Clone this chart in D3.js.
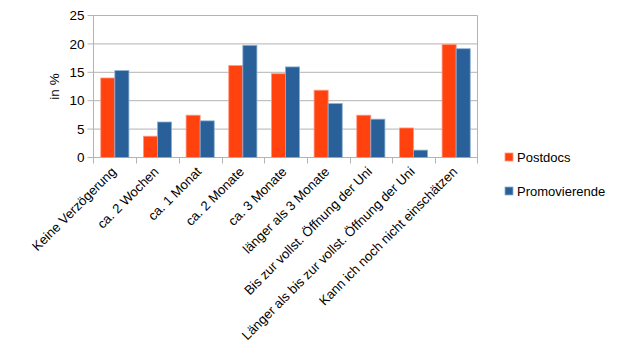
<!DOCTYPE html>
<html><head><meta charset="utf-8">
<script src="https://cdn.jsdelivr.net/npm/d3@7"></script>
<style>body{margin:0;background:#fff}svg{font-family:"Liberation Sans",Arial,sans-serif}</style>
</head><body><svg id="c" width="620" height="358"></svg>
<script>
const categories = ["Keine Verzögerung","ca. 2 Wochen","ca. 1 Monat","ca. 2 Monate","ca. 3 Monate","länger als 3 Monate","Bis zur vollst. Öffnung der Uni","Länger als bis zur vollst. Öffnung der Uni","Kann ich noch nicht einschätzen"];
const seriesNames = ["Postdocs","Promovierende"];
const postdocs = [14.0,3.75,7.45,16.2,14.75,11.85,7.45,5.2,19.9];
const promovierende = [15.3,6.25,6.45,19.75,15.95,9.5,6.75,1.3,19.15];
const yTicks = [0,5,10,15,20,25];
const colors = ["#ff420e","#2a6099"];
const strokes = ["#ff9a80","#8fb0d2"];

const svg = d3.select("#c");
const L=93.5, R=477.5, T=15.5, B=157.5;
const x = d3.scaleBand().domain(categories).range([L,R]).paddingInner(0.34).paddingOuter(0.17);
const xs = d3.scaleBand().domain(seriesNames).range([0,x.bandwidth()]);
const y = d3.scaleLinear().domain([0,25]).range([B,T]);

svg.append("g").selectAll("line").data(yTicks).join("line")
  .attr("x1",L-6).attr("x2",R).attr("y1",d=>y(d)).attr("y2",d=>y(d))
  .attr("stroke","#b3b3b3").attr("stroke-width",1);
svg.append("line").attr("x1",L).attr("x2",L).attr("y1",T).attr("y2",B+6).attr("stroke","#b3b3b3");
svg.append("line").attr("x1",R).attr("x2",R).attr("y1",T).attr("y2",B+6).attr("stroke","#b3b3b3");
const step = (R-L)/categories.length;
const bounds = d3.range(1,categories.length).map(i=>L+i*step);
svg.append("g").selectAll("line").data(bounds).join("line")
  .attr("x1",d=>Math.round(d)+0.5).attr("x2",d=>Math.round(d)+0.5).attr("y1",B).attr("y2",B+6)
  .attr("stroke","#b3b3b3");

svg.append("g").selectAll("text").data(yTicks).join("text")
  .attr("x",L-9).attr("y",d=>y(d)).attr("dy","0.35em").attr("text-anchor","end")
  .attr("font-size",13.5).attr("fill","#000").text(d=>d);
svg.append("text").attr("transform",`translate(59,${(T+B)/2}) rotate(-90)`)
  .attr("text-anchor","middle").attr("font-size",13.5).text("in %");

const data = [postdocs,promovierende];
data.forEach((vals,si)=>{
  svg.append("g").selectAll("rect").data(vals).join("rect")
    .attr("x",(d,i)=>x(categories[i])+xs(seriesNames[si]))
    .attr("width",xs.bandwidth())
    .attr("y",d=>y(d)).attr("height",d=>B-y(d))
    .attr("fill",colors[si]).attr("stroke",strokes[si]).attr("stroke-width",0.8);
});

svg.append("g").selectAll("text").data(categories).join("text")
  .attr("transform",d=>`translate(${x(d)+x.bandwidth()/2+2},${B+15}) rotate(-45)`)
  .attr("text-anchor","end").attr("font-size",13.2).attr("fill","#000").text(d=>d);

seriesNames.forEach((n,i)=>{
  const ly = 157 + i*34;
  svg.append("rect").attr("x",505).attr("y",ly-4).attr("width",8).attr("height",8)
    .attr("fill",colors[i]).attr("stroke",strokes[i]).attr("stroke-width",0.8);
  svg.append("text").attr("x",517).attr("y",ly).attr("dy","0.35em").attr("font-size",13).text(n);
});
</script></body></html>
